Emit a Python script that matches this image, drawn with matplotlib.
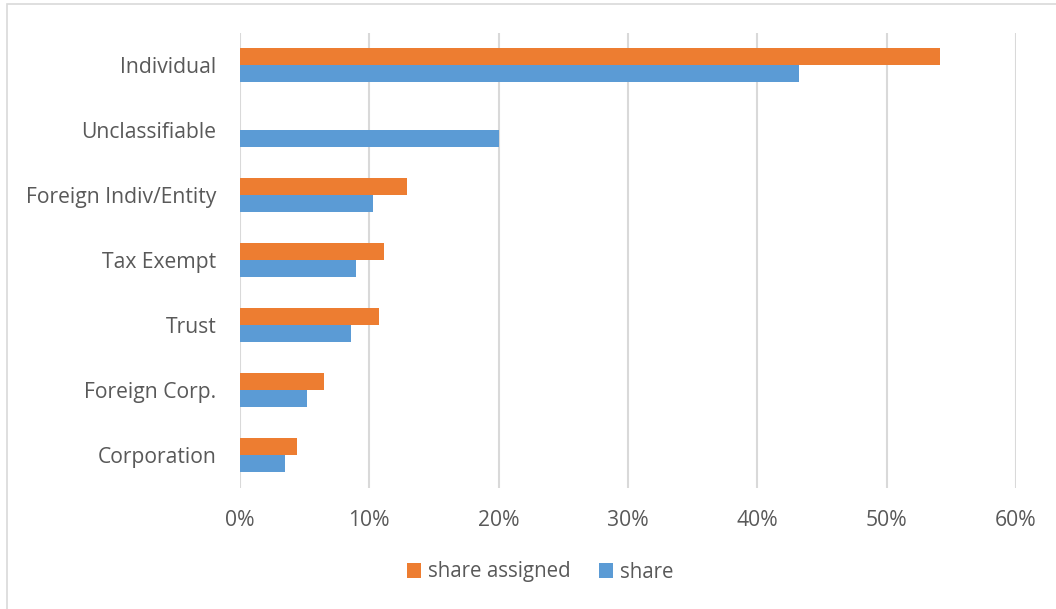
import matplotlib.pyplot as plt
import numpy as np
from matplotlib.patches import Rectangle

# share of records by taxpayer type
categorias = ['Individual', 'Unclassifiable', 'Foreign Indiv/Entity', 'Tax Exempt',
              'Trust', 'Foreign Corp.', 'Corporation']
share_assigned = [54.1, 0.0, 12.9, 11.15, 10.75, 6.5, 4.4]
share = [43.2, 20.0, 10.3, 8.95, 8.6, 5.2, 3.5]
ticks_x = [0, 10, 20, 30, 40, 50, 60]

NARANJA = '#ED7D31'
AZUL = '#5B9BD5'
GRIS_TEXTO = '#595959'
GRIS_LINEA = '#D9D9D9'

plt.rcParams['font.family'] = ['Open Sans', 'DejaVu Sans']

fig = plt.figure(figsize=(10.56, 6.09), dpi=100)
ax = fig.add_axes([240 / 1056, 1 - 487.5 / 609, 776 / 1056, 455 / 609])

# marco exterior del gráfico
fig.patches.append(Rectangle((7 / 1056, -0.1), 1.2, 1.1 - 3.5 / 609,
                             transform=fig.transFigure, fill=False,
                             edgecolor=GRIS_LINEA, linewidth=1.2))

y = np.arange(len(categorias))
alto = 0.265
ax.barh(y - alto / 2, share_assigned, height=alto, color=NARANJA,
        label='share assigned', zorder=3)
ax.barh(y + alto / 2, share, height=alto, color=AZUL, label='share', zorder=3)

ax.set_xlim(0, 60)
ax.set_ylim(len(categorias) - 0.5, -0.5)
ax.set_xticks(ticks_x)
ax.set_xticklabels([f'{t}%' for t in ticks_x])
ax.set_yticks(y)
ax.set_yticklabels(categorias)

ax.grid(axis='x', color=GRIS_LINEA, linewidth=1.5, zorder=0)
ax.set_axisbelow(True)
for lado in ['top', 'right', 'bottom', 'left']:
    ax.spines[lado].set_visible(False)
ax.tick_params(axis='both', length=0, labelsize=15.2, labelcolor=GRIS_TEXTO)
ax.tick_params(axis='x', pad=16)
ax.tick_params(axis='y', pad=17)

leg = fig.legend(loc='center', bbox_to_anchor=(540 / 1056, 1 - 572 / 609), ncol=2,
                 frameon=False, fontsize=14.8, handlelength=0.7, handleheight=0.7,
                 handletextpad=0.3, columnspacing=1.4)
for t in leg.get_texts():
    t.set_color(GRIS_TEXTO)

plt.savefig('out.png', dpi=100)
plt.close()
